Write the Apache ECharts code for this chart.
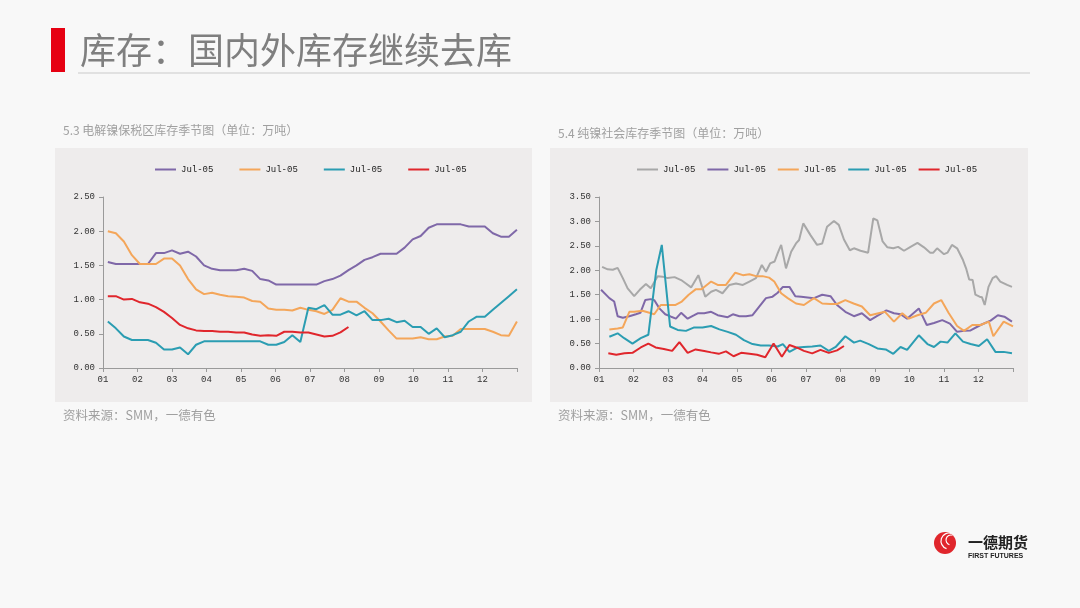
<!DOCTYPE html>
<html><head><meta charset="utf-8">
<script src="https://cdn.jsdelivr.net/npm/echarts@6/dist/echarts.min.js"></script>
<style>html,body{margin:0;padding:0;background:#F8F8F8;}#c{width:1080px;height:608px;}</style>
</head><body><div id="c"></div>
<script>
// ---------- DATA ----------
var monthLabels = ['01','02','03','04','05','06','07','08','09','10','11','12'];
var legendLabel = 'Jul-05';
var leftYTicks = [0, 2.5, 0.5];   // min, max, step
var rightYTicks = [0, 3.5, 0.5];

// Left chart (bonded-zone electrolytic nickel), weekly values
var leftPurple = [1.55,1.52,1.52,1.52,1.52,1.52,1.68,1.68,1.72,1.67,1.70,1.63,1.50,1.45,1.43,1.43,1.43,1.45,1.42,1.30,1.28,1.22,1.22,1.22,1.22,1.22,1.22,1.27,1.30,1.35,1.43,1.50,1.58,1.62,1.67,1.67,1.67,1.76,1.88,1.93,2.05,2.10,2.10,2.10,2.10,2.07,2.07,2.07,1.97,1.92,1.92,2.02];
var leftOrange = [2.00,1.97,1.85,1.65,1.52,1.52,1.52,1.60,1.60,1.50,1.30,1.15,1.08,1.10,1.07,1.05,1.04,1.03,0.98,0.97,0.87,0.85,0.85,0.84,0.88,0.85,0.83,0.79,0.85,1.02,0.97,0.97,0.88,0.80,0.68,0.55,0.43,0.43,0.43,0.45,0.42,0.42,0.46,0.47,0.57,0.57,0.57,0.57,0.53,0.48,0.47,0.68];
var leftTeal = [0.68,0.58,0.46,0.41,0.41,0.41,0.37,0.27,0.27,0.30,0.20,0.34,0.39,0.39,0.39,0.39,0.39,0.39,0.39,0.39,0.34,0.34,0.38,0.48,0.38,0.88,0.86,0.92,0.78,0.78,0.83,0.77,0.83,0.70,0.70,0.72,0.67,0.69,0.60,0.60,0.50,0.58,0.45,0.48,0.53,0.68,0.75,0.75,0.85,0.95,1.05,1.15];
var leftRed = [1.05,1.05,1.00,1.01,0.96,0.94,0.89,0.82,0.73,0.63,0.58,0.55,0.54,0.54,0.53,0.53,0.52,0.52,0.49,0.47,0.48,0.47,0.53,0.53,0.52,0.52,0.49,0.46,0.47,0.52,0.60];
var leftWeekStart = 0.14, leftWeekStep = 0.2325; // months

// Right chart (refined nickel social inventory): [month, value]
var rightGray = [[0.09,2.07],[0.25,2.02],[0.40,2.01],[0.54,2.05],[0.69,1.84],[0.83,1.63],[1.02,1.47],[1.18,1.60],[1.36,1.72],[1.50,1.63],[1.70,1.88],[1.84,1.87],[1.99,1.84],[2.19,1.86],[2.38,1.80],[2.52,1.73],[2.67,1.65],[2.88,1.90],[3.08,1.46],[3.25,1.56],[3.39,1.60],[3.58,1.53],[3.78,1.70],[3.97,1.73],[4.17,1.70],[4.36,1.77],[4.55,1.84],[4.72,2.11],[4.84,1.97],[4.96,2.14],[5.09,2.18],[5.18,2.35],[5.28,2.52],[5.42,2.04],[5.57,2.38],[5.71,2.55],[5.80,2.62],[5.92,2.96],[6.13,2.72],[6.32,2.52],[6.47,2.55],[6.61,2.89],[6.81,3.01],[6.95,2.93],[7.10,2.63],[7.27,2.41],[7.39,2.45],[7.58,2.40],[7.80,2.36],[7.95,3.06],[8.07,3.02],[8.22,2.59],[8.36,2.47],[8.53,2.45],[8.67,2.48],[8.84,2.40],[9.03,2.48],[9.23,2.56],[9.42,2.47],[9.60,2.36],[9.69,2.36],[9.80,2.45],[10.00,2.33],[10.10,2.36],[10.23,2.52],[10.38,2.45],[10.55,2.21],[10.64,2.04],[10.73,1.81],[10.83,1.80],[10.91,1.50],[11.03,1.46],[11.10,1.45],[11.18,1.29],[11.29,1.66],[11.41,1.84],[11.51,1.88],[11.63,1.77],[11.83,1.70],[11.97,1.66]];
var rightPurple = [[0.06,1.60],[0.30,1.43],[0.44,1.36],[0.54,1.06],[0.69,1.03],[0.88,1.06],[1.07,1.10],[1.20,1.13],[1.34,1.39],[1.50,1.41],[1.60,1.39],[1.75,1.22],[1.92,1.10],[2.09,1.05],[2.23,1.01],[2.38,1.13],[2.57,1.01],[2.76,1.08],[2.86,1.12],[3.05,1.12],[3.25,1.15],[3.44,1.08],[3.73,1.04],[3.88,1.10],[4.07,1.06],[4.26,1.06],[4.45,1.08],[4.65,1.26],[4.84,1.43],[5.03,1.46],[5.18,1.54],[5.33,1.66],[5.52,1.66],[5.69,1.47],[5.86,1.46],[6.23,1.43],[6.47,1.50],[6.71,1.47],[6.90,1.29],[7.14,1.15],[7.39,1.06],[7.62,1.12],[7.86,0.98],[8.10,1.08],[8.33,1.18],[8.55,1.12],[8.74,1.10],[8.93,1.01],[9.27,1.22],[9.50,0.88],[9.71,0.92],[9.95,0.98],[10.17,0.91],[10.38,0.74],[10.58,0.76],[10.77,0.77],[11.06,0.88],[11.35,0.97],[11.56,1.08],[11.75,1.05],[11.97,0.95]];
var rightOrange = [[0.30,0.79],[0.54,0.81],[0.69,0.83],[0.88,1.15],[1.02,1.15],[1.26,1.17],[1.46,1.13],[1.60,1.10],[1.79,1.29],[1.99,1.29],[2.22,1.29],[2.40,1.36],[2.60,1.50],[2.80,1.61],[2.97,1.61],[3.25,1.77],[3.44,1.70],[3.68,1.70],[3.95,1.95],[4.17,1.90],[4.36,1.92],[4.55,1.88],[4.74,1.88],[4.93,1.85],[5.08,1.77],[5.28,1.53],[5.47,1.43],[5.71,1.32],[5.94,1.29],[6.23,1.43],[6.47,1.32],[6.70,1.31],[6.90,1.31],[7.14,1.39],[7.38,1.32],[7.62,1.26],[7.86,1.08],[8.10,1.12],[8.29,1.15],[8.55,0.95],[8.79,1.12],[8.98,1.01],[9.23,1.08],[9.47,1.13],[9.71,1.32],[9.92,1.39],[10.14,1.12],[10.38,0.86],[10.58,0.76],[10.82,0.88],[11.06,0.88],[11.30,0.95],[11.43,0.65],[11.73,0.95],[12.0,0.85]];
var rightTeal = [[0.30,0.64],[0.54,0.71],[0.73,0.61],[0.97,0.50],[1.21,0.61],[1.43,0.68],[1.66,2.00],[1.82,2.52],[2.06,0.85],[2.28,0.78],[2.52,0.76],[2.76,0.83],[3.00,0.83],[3.25,0.86],[3.49,0.79],[3.73,0.74],[3.97,0.68],[4.20,0.57],[4.45,0.49],[4.69,0.46],[4.93,0.46],[5.18,0.44],[5.33,0.49],[5.52,0.33],[5.76,0.42],[5.94,0.43],[6.18,0.44],[6.42,0.46],[6.66,0.35],[6.86,0.43],[7.14,0.65],[7.39,0.52],[7.57,0.56],[7.82,0.49],[8.07,0.40],[8.31,0.38],[8.53,0.29],[8.74,0.43],[8.93,0.37],[9.27,0.67],[9.52,0.49],[9.71,0.43],[9.90,0.54],[10.10,0.52],[10.33,0.71],[10.55,0.54],[10.77,0.49],[11.01,0.45],[11.25,0.59],[11.49,0.33],[11.73,0.33],[11.97,0.30]];
var rightRed = [[0.27,0.30],[0.50,0.27],[0.74,0.30],[0.97,0.31],[1.21,0.42],[1.43,0.50],[1.64,0.42],[1.88,0.39],[2.12,0.35],[2.33,0.53],[2.57,0.31],[2.80,0.38],[3.05,0.35],[3.25,0.32],[3.47,0.29],[3.68,0.34],[3.90,0.24],[4.12,0.31],[4.36,0.29],[4.58,0.27],[4.82,0.22],[5.06,0.50],[5.30,0.23],[5.52,0.47],[5.76,0.41],[5.94,0.35],[6.18,0.30],[6.42,0.37],[6.66,0.31],[6.90,0.36],[7.10,0.45]];

// ---------- BUILD ----------
function weekly(arr){ return arr.map(function(v,i){ return [leftWeekStart + i*leftWeekStep, v]; }); }
var C = {purple:'#7F68A8', orange:'#F4A65A', teal:'#2B9DB2', red:'#E0262C', gray:'#A8A8A8'};
var axisCol = '#9A9A9A';
var numFont = 'Liberation Mono';
var cjk = '"Noto Sans CJK SC", sans-serif';

function xAxis(g){
  return {type:'value', gridIndex:g, min:0, max:12, interval:1,
    axisLine:{lineStyle:{color:axisCol,width:1}},
    axisTick:{show:true,length:4,lineStyle:{color:axisCol}},
    splitLine:{show:false},
    axisLabel:{fontFamily:numFont,fontSize:9,color:'#333',margin:7,
      formatter:function(v){ return v<12 ? monthLabels[Math.round(v)] : ''; }}};
}
function yAxis(g,t){
  return {type:'value', gridIndex:g, min:t[0], max:t[1], interval:t[2],
    axisLine:{show:true,lineStyle:{color:axisCol,width:1}},
    axisTick:{show:true,length:4,lineStyle:{color:axisCol}},
    splitLine:{show:false},
    axisLabel:{fontFamily:numFont,fontSize:9,color:'#333',margin:8,
      formatter:function(v){ return v.toFixed(2); }}};
}
function line(name,data,color,g){
  return {name:name,type:'line',xAxisIndex:g,yAxisIndex:g,data:data,showSymbol:false,symbol:'none',
    lineStyle:{color:color,width:2},itemStyle:{color:color},animation:false};
}
var legendText = {fontFamily:numFont,fontSize:9,color:'#222'};

var option = {
  backgroundColor:'#F8F8F8',
  animation:false,
  grid:[
    {left:103, right:1080-517, top:197, bottom:608-368},
    {left:599, right:1080-1013, top:197, bottom:608-368}
  ],
  xAxis:[xAxis(0), xAxis(1)],
  yAxis:[yAxis(0,leftYTicks), yAxis(1,rightYTicks)],
  legend:[
    {data:['L1','L2','L3','L4'], left:155, top:165, padding:0, icon:'rect', itemWidth:21, itemHeight:2, itemGap:26,
     formatter:function(){return legendLabel;}, textStyle:legendText},
    {data:['R1','R2','R3','R4','R5'], left:637, top:165, padding:0, icon:'rect', itemWidth:21, itemHeight:2, itemGap:12,
     formatter:function(){return legendLabel;}, textStyle:legendText}
  ],
  series:[
    line('L1',weekly(leftPurple),C.purple,0),
    line('L2',weekly(leftOrange),C.orange,0),
    line('L3',weekly(leftTeal),C.teal,0),
    line('L4',weekly(leftRed),C.red,0),
    line('R1',rightGray,C.gray,1),
    line('R2',rightPurple,C.purple,1),
    line('R3',rightOrange,C.orange,1),
    line('R4',rightTeal,C.teal,1),
    line('R5',rightRed,C.red,1)
  ],
  graphic:[
    {type:'rect',z:-10,shape:{x:55,y:148,width:477,height:254},style:{fill:'#EEECEC'}},
    {type:'rect',z:-10,shape:{x:550,y:148,width:478,height:254},style:{fill:'#EEECEC'}},
    {type:'rect',shape:{x:51,y:28,width:14,height:44},style:{fill:'#E60012'}},
    {type:'line',shape:{x1:78,y1:73,x2:1030,y2:73},style:{stroke:'#DADADA',lineWidth:1.5}},
    {type:'text',x:80,y:50,style:{text:'库存：国内外库存继续去库',font:'36px '+cjk,fill:'#7F7F7F',textVerticalAlign:'middle',textBaseline:'middle'}},
    {type:'text',x:63,y:130,style:{text:'5.3 电解镍保税区库存季节图（单位：万吨）',font:'12px '+cjk,fill:'#A0A0A0',textBaseline:'middle',textVerticalAlign:'middle'}},
    {type:'text',x:558,y:133,style:{text:'5.4 纯镍社会库存季节图（单位：万吨）',font:'12px '+cjk,fill:'#A0A0A0',textBaseline:'middle',textVerticalAlign:'middle'}},
    {type:'text',x:63,y:415,style:{text:'资料来源：SMM，一德有色',font:'12.5px '+cjk,fill:'#A0A0A0',textBaseline:'middle',textVerticalAlign:'middle'}},
    {type:'text',x:558,y:415,style:{text:'资料来源：SMM，一德有色',font:'12.5px '+cjk,fill:'#A0A0A0',textBaseline:'middle',textVerticalAlign:'middle'}},
    // logo
    {type:'circle',shape:{cx:945,cy:543,r:11},style:{fill:'#E0262C'}},
    {type:'arc',shape:{cx:949,cy:541,r:8,startAngle:Math.PI*0.6,endAngle:Math.PI*1.6},style:{stroke:'#FFFFFF',lineWidth:1.2,fill:null}},
    {type:'arc',shape:{cx:951,cy:540,r:5,startAngle:Math.PI*0.6,endAngle:Math.PI*1.6},style:{stroke:'#FFFFFF',lineWidth:1.2,fill:null}},
    {type:'text',x:968,y:542,style:{text:'一德期货',font:'bold 15px '+cjk,fill:'#222',textBaseline:'middle',textVerticalAlign:'middle'}},
    {type:'text',x:968,y:556,style:{text:'FIRST FUTURES',font:'bold 7px "Liberation Sans", sans-serif',fill:'#222',textBaseline:'middle',textVerticalAlign:'middle'}}
  ]
};
var chart = echarts.init(document.getElementById('c'),null,{renderer:'canvas'});
chart.setOption(option);
</script></body></html>
